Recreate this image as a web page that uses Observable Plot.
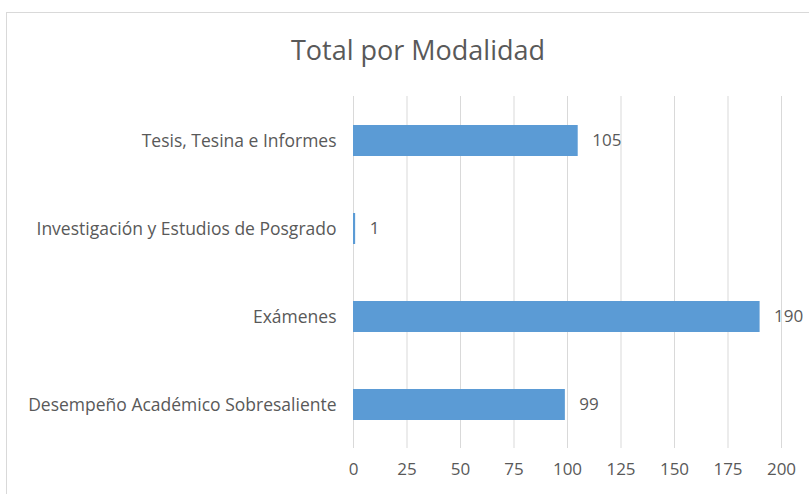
<!DOCTYPE html>
<html>
<head>
<meta charset="utf-8">
<script src="https://cdn.jsdelivr.net/npm/d3@7"></script>
<script src="https://cdn.jsdelivr.net/npm/@observablehq/plot@0.6"></script>
<style>
  html, body { margin: 0; padding: 0; background: #fff; width: 809px; height: 494px; overflow: hidden; }
  #frame { position: absolute; left: 6px; top: 12px; width: 830px; height: 520px; border: 1px solid #d9d9d9; box-sizing: border-box; }
  #title { position: absolute; left: 0; top: 31px; width: 836px; text-align: center; font-family: "Open Sans", sans-serif; font-size: 27px; line-height: 37px; color: #595959; }
  #chart { position: absolute; left: 0; top: 80px; }
</style>
</head>
<body>
<div id="frame"></div>
<div id="title">Total por Modalidad</div>
<div id="chart"></div>
<script>
const categories = [
  "Tesis, Tesina e Informes",
  "Investigación y Estudios de Posgrado",
  "Exámenes",
  "Desempeño Académico Sobresaliente"
];
const values = [105, 1, 190, 99];
const xTicks = [0, 25, 50, 75, 100, 125, 150, 175, 200];

const data = categories.map((c, i) => ({ category: c, value: values[i] }));

const chart = Plot.plot({
  width: 809,
  height: 414,
  marginLeft: 353,
  marginRight: 28,
  marginTop: 16,
  marginBottom: 46,
  style: { fontFamily: "Open Sans, sans-serif", fontSize: "17px", color: "#595959", background: "transparent" },
  x: { domain: [0, 200], ticks: xTicks, label: null },
  y: { domain: categories, label: null, paddingInner: 0.648, paddingOuter: 0.324 },
  marks: [
    Plot.gridX(xTicks, { stroke: "#d9d9d9", strokeOpacity: 1, strokeWidth: 1 }),
    Plot.axisX({ ticks: xTicks, tickSize: 0, tickPadding: 14, label: null, fontSize: 17 }),
    Plot.axisY({ tickSize: 0, tickPadding: 17, label: null, fontSize: 17.5 }),
    Plot.barX(data, { x: "value", y: "category", fill: "#5B9BD5" }),
    Plot.text(data, { x: "value", y: "category", text: d => String(d.value), textAnchor: "start", dx: 14, fill: "#595959", fontSize: 17 })
  ]
});
document.getElementById("chart").appendChild(chart);
</script>
</body>
</html>
